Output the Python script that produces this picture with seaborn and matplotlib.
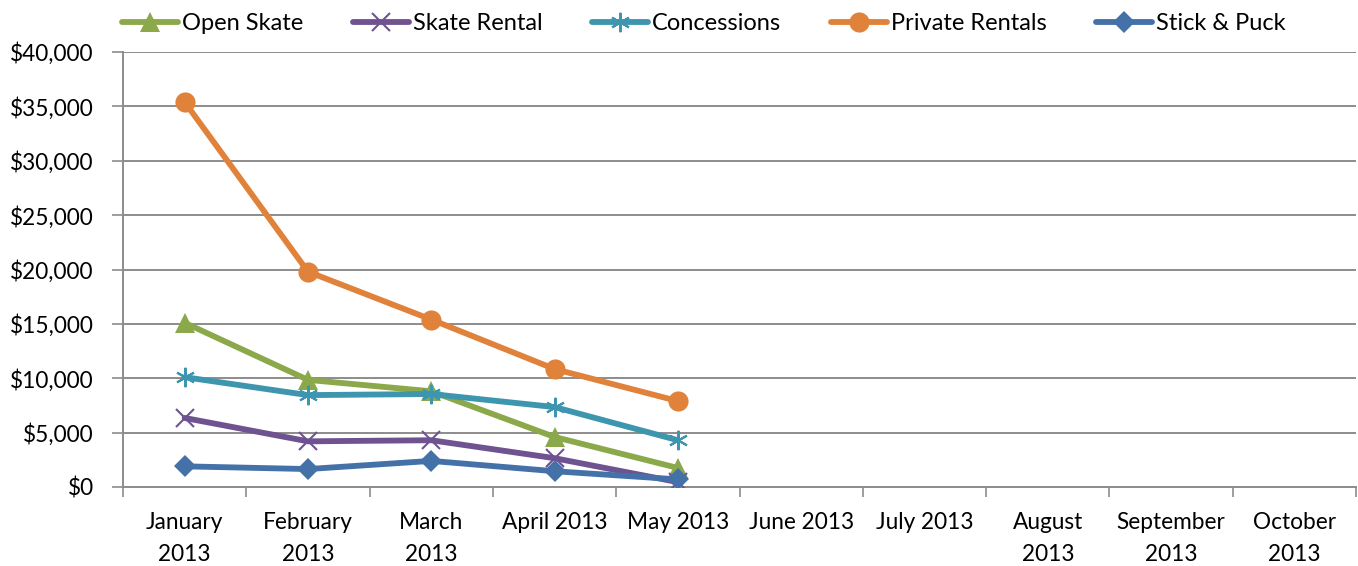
import matplotlib
matplotlib.use("Agg")
import matplotlib.pyplot as plt
import seaborn as sns
import pandas as pd
import numpy as np
from matplotlib.ticker import FuncFormatter, FixedLocator

months = ["January\n2013", "February\n2013", "March\n2013", "April 2013", "May 2013",
          "June 2013", "July 2013", "August\n2013", "September\n2013", "October\n2013"]
series_names = ["Open Skate", "Skate Rental", "Concessions", "Private Rentals", "Stick & Puck"]
open_skate = [15100, 9850, 8800, 4600, 1750]
skate_rental = [6350, 4200, 4300, 2650, 450]
concessions = [10100, 8450, 8550, 7350, 4300]
private_rentals = [35400, 19800, 15400, 10850, 7900]
stick_puck = [1900, 1650, 2400, 1450, 700]

values = [open_skate, skate_rental, concessions, private_rentals, stick_puck]
colors = ["#8BA84A", "#6F5391", "#3D96AE", "#E0823A", "#4472A8"]
markers = ["^", "x", (6, 2, 0), "o", "D"]
msizes = [14, 13, 14, 14.5, 11]

FS = 16.3
LFS = 17
sns.set_theme(style="white")
plt.rcParams['font.family'] = ['Lato', 'DejaVu Sans']

fig = plt.figure(figsize=(13.58, 5.66), dpi=100)
ax = fig.add_axes([123/1358, 1-487/566, (1356-123)/1358, (487-52)/566])

rows = []
for name, vals in zip(series_names, values):
    for i, v in enumerate(vals):
        rows.append({"series": name, "idx": i, "value": v})
df = pd.DataFrame(rows)

for name, c, m, ms in zip(series_names, colors, markers, msizes):
    sub = df[df["series"] == name]
    sns.lineplot(data=sub, x="idx", y="value", ax=ax, color=c, marker=m,
                 markersize=ms, linewidth=4.2, label=name,
                 markeredgecolor=c, markeredgewidth=1.5 if m in ("x", (6, 2, 0)) else 0,
                 zorder=3)

ax.set_xlim(-0.5, len(months) - 0.5)
ax.set_ylim(0, 40000)
ax.yaxis.set_major_locator(FixedLocator(np.arange(0, 40001, 5000)))
ax.yaxis.set_major_formatter(FuncFormatter(lambda v, p: "${:,.0f}".format(v)))
ax.grid(axis="y", color="#8C8C8C", linewidth=1.4)
ax.set_axisbelow(True)

ax.set_xticks(np.arange(-0.5, len(months), 1.0))
ax.set_xticklabels([])
ax.set_xticks(np.arange(len(months)), minor=True)
ax.set_xticklabels(months, minor=True, fontsize=FS, linespacing=1.65, va="top", color="black")
ax.tick_params(axis="x", which="minor", length=0, pad=18)
ax.tick_params(axis="x", which="major", length=7, width=1.2, color="#8C8C8C", direction="out")
ax.tick_params(axis="y", length=8, width=1.2, color="#8C8C8C", direction="out",
               labelsize=FS, pad=13, labelcolor="black")
ax.tick_params(bottom=True, left=True)

for s in ["top", "right"]:
    ax.spines[s].set_visible(False)
for s in ["left", "bottom"]:
    ax.spines[s].set_color("#8C8C8C")
    ax.spines[s].set_linewidth(1.4)
ax.set_xlabel("")
ax.set_ylabel("")

leg = ax.legend(loc="center left", bbox_to_anchor=(122/1358, 1-24/566),
                bbox_transform=fig.transFigure, ncol=5, frameon=False,
                fontsize=LFS, handlelength=2.37, handletextpad=0.17, columnspacing=2.1,
                borderpad=0, borderaxespad=0)
for t in leg.get_texts():
    t.set_color("black")

fig.savefig("out.png", dpi=100)
